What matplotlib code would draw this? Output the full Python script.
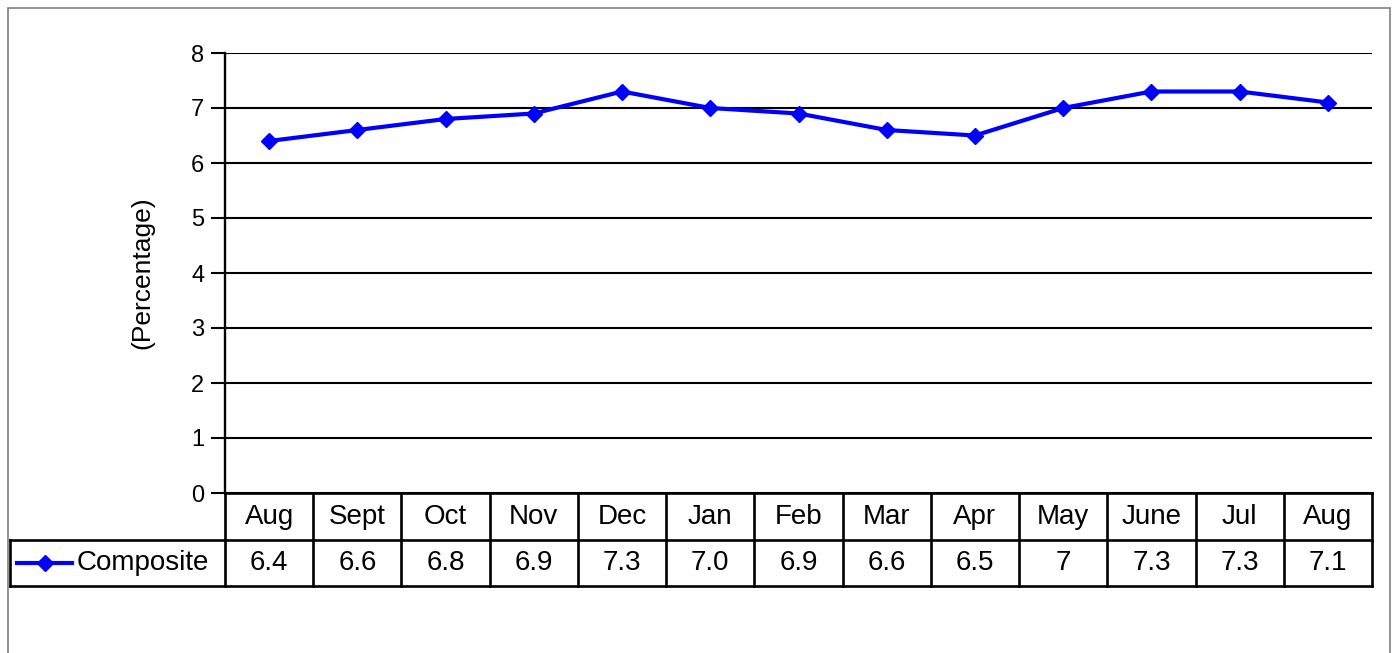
import matplotlib
matplotlib.use("Agg")
import matplotlib.pyplot as plt
from matplotlib.patches import Rectangle
from matplotlib.lines import Line2D

months = ["Aug", "Sept", "Oct", "Nov", "Dec", "Jan", "Feb", "Mar", "Apr", "May", "June", "Jul", "Aug"]
composite = [6.4, 6.6, 6.8, 6.9, 7.3, 7.0, 6.9, 6.6, 6.5, 7.0, 7.3, 7.3, 7.1]
value_labels = ["6.4", "6.6", "6.8", "6.9", "7.3", "7.0", "6.9", "6.6", "6.5", "7", "7.3", "7.3", "7.1"]
series_name = "Composite"
y_ticks = [0, 1, 2, 3, 4, 5, 6, 7, 8]

W, H = 1395, 653
regular = ["Liberation Sans", "DejaVu Sans"]

fig = plt.figure(figsize=(W / 100, H / 100), dpi=100)
fig.patch.set_facecolor("white")

# outer chart-area border
fig.patches.append(Rectangle((8 / W, -0.02), 1382 / W, (H - 8) / H + 0.02,
                             transform=fig.transFigure, fill=False,
                             edgecolor="#808080", linewidth=1.2))

x0, x1, y0, y1 = 225, 1372, 53, 493
ax = fig.add_axes([x0 / W, 1 - y1 / H, (x1 - x0) / W, (y1 - y0) / H])
n = len(months)
xs = list(range(n))

for t in y_ticks:
    ax.axhline(t, color="black", linewidth=1.5, zorder=1)
ax.plot(xs, composite, color="#0000FF", linewidth=3, marker="D", markersize=8,
        zorder=3, clip_on=False)

ax.set_xlim(-0.5, n - 0.5)
ax.set_ylim(0, 8)
ax.set_yticks(y_ticks)
ax.set_xticks([])
for s in ["top", "right"]:
    ax.spines[s].set_visible(False)
ax.spines["left"].set_linewidth(1.7)
ax.spines["bottom"].set_linewidth(1.9)
ax.tick_params(axis="y", length=10, width=1.5, pad=5, labelsize=17)
for lab in ax.get_yticklabels():
    lab.set_family(regular)
ax.set_ylabel("(Percentage)", fontsize=19, family=regular, labelpad=26)

# data table under the axis
ah = y1 - y0
r1 = -47 / ah
r2 = -93 / ah
legx = (10 - x0) / (x1 - x0)
tb = ax.get_xaxis_transform()
kw = dict(color="black", linewidth=1.9, clip_on=False, solid_capstyle="projecting")
ax.plot([legx, 1], [r1, r1], transform=ax.transAxes, **kw)
ax.plot([legx, 1], [r2, r2], transform=ax.transAxes, **kw)
ax.plot([legx, legx], [r1, r2], transform=ax.transAxes, **kw)
for i in range(n + 1):
    ax.plot([i - 0.5, i - 0.5], [0, r2], transform=tb, **kw)
for i in range(n):
    ax.text(xs[i], r1 / 2, months[i], transform=tb, ha="center", va="center",
            fontsize=20, family=regular)
    ax.text(xs[i], (r1 + r2) / 2, value_labels[i], transform=tb, ha="center",
            va="center", fontsize=20, family=regular)

# legend key inside the table
ym = (r1 + r2) / 2
lx0 = (17 - x0) / (x1 - x0)
lx1 = (72 - x0) / (x1 - x0)
ax.add_line(Line2D([lx0, lx1], [ym, ym], transform=ax.transAxes, color="#0000FF",
                   linewidth=3, clip_on=False))
ax.add_line(Line2D([(lx0 + lx1) / 2], [ym], transform=ax.transAxes, color="#0000FF",
                   marker="D", markersize=8, clip_on=False))
ax.text((77 - x0) / (x1 - x0), ym, series_name, transform=ax.transAxes,
        ha="left", va="center", fontsize=20, family=regular)

fig.savefig("out.png", dpi=100)
